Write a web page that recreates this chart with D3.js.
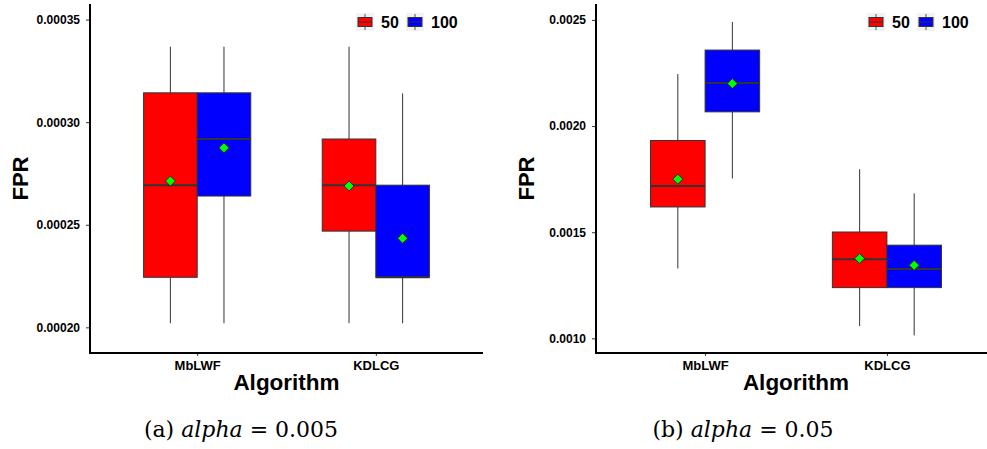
<!DOCTYPE html>
<html>
<head>
<meta charset="utf-8">
<title>FPR boxplots</title>
<style>
body{margin:0; background:#fff;}
svg{display:block;}
.tick text{font-family: Arial, "Liberation Sans", sans-serif; font-weight: bold; fill:#000;}
.tick line{stroke:#333;}
.caption{font-family: "DejaVu Serif", "Liberation Serif", serif; font-size: 22px;}
</style>
</head>
<body>
<svg id="chart" width="987" height="449"></svg>
<script src="https://cdn.jsdelivr.net/npm/d3@7/dist/d3.min.js"></script>
<script>
//data: each row = [whisker low, q1, median, q3, whisker high, mean]
var categories = ['MbLWF', 'KDLCG'];
var groups = ['50', '100'];
var groupColors = ['#ff0000', '#0000ff'];

var alpha005_50  = [[0.000202, 0.0002244, 0.0002693, 0.0003143, 0.0003368, 0.0002713],
                    [0.000202, 0.0002469, 0.0002693, 0.0002918, 0.0003368, 0.0002689]];
var alpha005_100 = [[0.000202, 0.000264,  0.0002918, 0.0003143, 0.0003368, 0.0002875],
                    [0.000202, 0.0002244, 0.0002244, 0.0002693, 0.000314,  0.0002434]];
var alpha05_50   = [[0.001329, 0.001619, 0.001718, 0.001932, 0.002245, 0.00175],
                    [0.001058, 0.001239, 0.001373, 0.001501, 0.001797, 0.001376]];
var alpha05_100  = [[0.001753, 0.002067, 0.002203, 0.002358, 0.00249,  0.0022],
                    [0.001014, 0.001239, 0.001327, 0.001439, 0.001683, 0.001344]];

var ticksA = [0.0002, 0.00025, 0.0003, 0.00035];
var ticksB = [0.001, 0.0015, 0.002, 0.0025];

var svg = d3.select('#chart');

drawPanel({
  left: 90, right: 483, top: 4, bottom: 353,
  domain: [0.0001875, 0.0003576], ticks: ticksA, fmt: '.5f',
  series: [alpha005_50, alpha005_100],
  legendX: 356, captionX: 241, caption: ['(a) ', 'alpha', ' = 0.005']
});
drawPanel({
  left: 596, right: 996, top: 4, bottom: 353,
  domain: [0.000931, 0.002575], ticks: ticksB, fmt: '.4f',
  series: [alpha05_50, alpha05_100],
  legendX: 867, captionX: 743, caption: ['(b) ', 'alpha', ' = 0.05']
});

function drawPanel(p){
  var g = svg.append('g');

  var y = d3.scaleLinear().domain(p.domain).range([p.bottom, p.top]);
  var x = d3.scalePoint().domain(categories).range([p.left, p.right]).padding(0.6);
  var dodge = d3.scaleBand().domain(groups)
      .range([-0.3 * x.step(), 0.3 * x.step()]);

  //y axis
  var ya = g.append('g')
      .attr('transform', 'translate(' + p.left + ',0)')
      .call(d3.axisLeft(y).tickValues(p.ticks).tickFormat(d3.format(p.fmt))
              .tickSize(4).tickPadding(6));
  ya.select('.domain').remove();
  ya.selectAll('text').style('font-size', '12px');

  //x axis
  var xa = g.append('g')
      .attr('transform', 'translate(0,' + p.bottom + ')')
      .call(d3.axisBottom(x).tickSize(3).tickPadding(5));
  xa.select('.domain').remove();
  xa.selectAll('text').style('font-size', '13px');

  //axis lines
  g.append('line').attr('x1', p.left).attr('x2', p.left)
      .attr('y1', p.top).attr('y2', p.bottom + 1)
      .attr('stroke', '#000').attr('stroke-width', 2);
  g.append('line').attr('x1', p.left - 1).attr('x2', p.right)
      .attr('y1', p.bottom).attr('y2', p.bottom)
      .attr('stroke', '#000').attr('stroke-width', 2);

  //boxes
  p.series.forEach(function(rows, gi){
    var sg = g.append('g');
    rows.forEach(function(r, ci){
      var x0 = x(categories[ci]) + dodge(groups[gi]);
      var w = dodge.bandwidth();
      var cx = x0 + w / 2;
      sg.append('line').attr('x1', cx).attr('x2', cx)
          .attr('y1', y(r[4])).attr('y2', y(r[3]))
          .attr('stroke', '#333').attr('stroke-width', 1);
      sg.append('line').attr('x1', cx).attr('x2', cx)
          .attr('y1', y(r[1])).attr('y2', y(r[0]))
          .attr('stroke', '#333').attr('stroke-width', 1);
      sg.append('rect')
          .attr('x', x0).attr('width', w)
          .attr('y', y(r[3])).attr('height', y(r[1]) - y(r[3]))
          .attr('fill', groupColors[gi])
          .attr('stroke', '#333').attr('stroke-width', 1);
      sg.append('line').attr('x1', x0).attr('x2', x0 + w)
          .attr('y1', y(r[2])).attr('y2', y(r[2]))
          .attr('stroke', '#333').attr('stroke-width', 2);
    });
  });

  //means
  p.series.forEach(function(rows, gi){
    rows.forEach(function(r, ci){
      var cx = x(categories[ci]) + dodge(groups[gi]) + dodge.bandwidth() / 2;
      g.append('path')
          .attr('d', d3.symbol(d3.symbolDiamond2, 64)())
          .attr('transform', 'translate(' + cx + ',' + y(r[5]) + ')')
          .attr('fill', '#00ff00').attr('stroke', '#1a1a1a').attr('stroke-width', 0.8);
    });
  });

  //axis titles
  g.append('text')
      .attr('transform', 'translate(' + (p.left - 62) + ',' + ((p.top + p.bottom) / 2) + ') rotate(-90)')
      .attr('text-anchor', 'middle')
      .style('font-family', 'Arial, "Liberation Sans", sans-serif')
      .style('font-weight', 'bold').style('font-size', '22px')
      .text('FPR');
  g.append('text')
      .attr('x', (p.left + p.right) / 2).attr('y', 390)
      .attr('text-anchor', 'middle')
      .style('font-family', 'Arial, "Liberation Sans", sans-serif')
      .style('font-weight', 'bold').style('font-size', '22.5px')
      .text('Algorithm');

  //legend
  var lx = p.legendX;
  groups.forEach(function(name, gi){
    var kx = gi === 0 ? lx : lx + 50;
    var key = g.append('g').attr('transform', 'translate(' + kx + ',13)');
    key.append('rect').attr('width', 18).attr('height', 18).attr('fill', '#f2f2f2');
    key.append('line').attr('x1', 9).attr('x2', 9).attr('y1', 1).attr('y2', 17)
        .attr('stroke', '#555');
    key.append('rect').attr('x', 2).attr('y', 4.5).attr('width', 14).attr('height', 9)
        .attr('fill', groupColors[gi]).attr('stroke', '#333');
    key.append('line').attr('x1', 2).attr('x2', 16).attr('y1', 9).attr('y2', 9)
        .attr('stroke', '#333').attr('stroke-width', 1);
    key.append('text').attr('x', 25).attr('y', 15)
        .style('font-family', 'Arial, "Liberation Sans", sans-serif')
        .style('font-weight', 'bold').style('font-size', '16px')
        .text(name);
  });

  //caption
  var cap = g.append('text').attr('class', 'caption')
      .attr('x', p.captionX).attr('y', 437).attr('text-anchor', 'middle');
  cap.append('tspan').text(p.caption[0]);
  cap.append('tspan').style('font-style', 'italic').text(p.caption[1]);
  cap.append('tspan').text(p.caption[2]);
}
</script>
</body>
</html>
